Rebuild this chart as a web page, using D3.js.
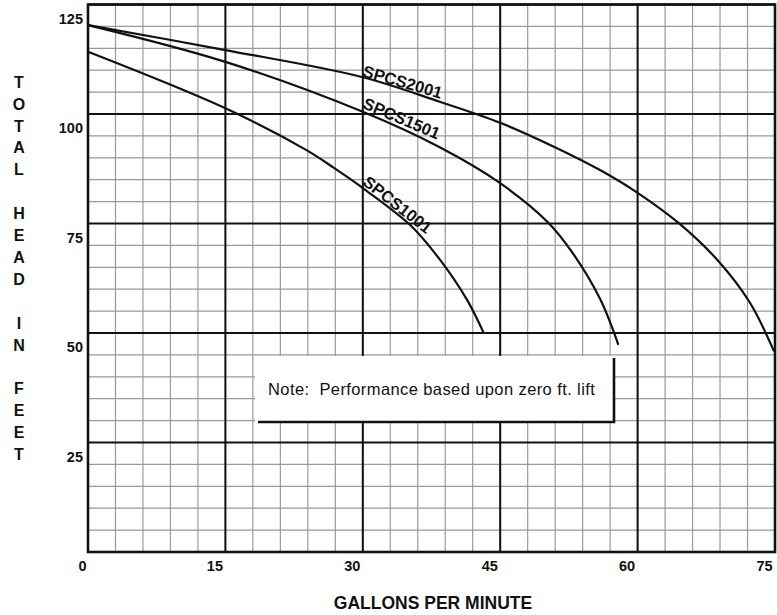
<!DOCTYPE html>
<html>
<head>
<meta charset="utf-8">
<script src="https://cdn.jsdelivr.net/npm/d3@7"></script>
<style>
  body { margin: 0; background: #fff; }
  text { font-family: "Liberation Sans", Arial, sans-serif; fill: #111; }
</style>
</head>
<body>
<div id="viz-container"></div>
<script>
// pump curves (gallons per minute vs total head in feet)
let spcs2001Gpm  = [0, 15, 30, 38.4, 45, 51.2, 55.9, 60, 64.6, 69.0, 72.3, 74.9];
let spcs2001Head = [120.3, 114.6, 108.4, 102.8, 98.0, 92.2, 87.2, 82.0, 74.9, 66.0, 56.8, 45.8];

let spcs1501Gpm  = [0, 15, 30, 38.4, 45, 50.2, 52.9, 55.9, 57.9];
let spcs1501Head = [120.3, 111.9, 100.5, 92.4, 84.2, 75.3, 68.3, 57.8, 47.3];

let spcs1001Gpm  = [0, 15, 23.9, 26.7, 30, 35.2, 38.4, 41.4, 43.2];
let spcs1001Head = [114.2, 101.3, 91.7, 87.9, 83.1, 74.6, 66.8, 57.5, 50.0];

let seriesNames = ["SPCS2001", "SPCS1501", "SPCS1001"];

let xTicks = [0, 15, 30, 45, 60, 75];
let yTicks = [25, 50, 75, 100, 125];

let yTitleWords = ["TOTAL", "HEAD", "IN", "FEET"];
let xTitle = "GALLONS PER MINUTE";
let noteText = "Note:  Performance based upon zero ft. lift";

let series = [
  { name: seriesNames[0], gpm: spcs2001Gpm, head: spcs2001Head },
  { name: seriesNames[1], gpm: spcs1501Gpm, head: spcs1501Head },
  { name: seriesNames[2], gpm: spcs1001Gpm, head: spcs1001Head }
];

// label look: rotation and lift above the curve
let labelAngle = [16, 23, 38];
let labelLift = [1, 4, 4];

let viz = d3.select("#viz-container")
            .append("svg")
              .attr("width", 777)
              .attr("height", 615);

let x = d3.scaleLinear().domain([0, 75]).range([88, 775]);
let y = d3.scaleLinear().domain([0, 125]).range([552, 4.5]);

// minor grid
viz.append("g").selectAll("line").data(d3.range(3, 75, 3)).enter().append("line")
    .attr("x1", d => x(d)).attr("x2", d => x(d))
    .attr("y1", y(0)).attr("y2", y(125))
    .attr("stroke", "#9a9a9a").attr("stroke-width", 1.2);
viz.append("g").selectAll("line").data(d3.range(5, 125, 5)).enter().append("line")
    .attr("y1", d => y(d)).attr("y2", d => y(d))
    .attr("x1", x(0)).attr("x2", x(75))
    .attr("stroke", "#9a9a9a").attr("stroke-width", 1.2);

// major grid
viz.append("g").selectAll("line").data(xTicks).enter().append("line")
    .attr("x1", d => x(d)).attr("x2", d => x(d))
    .attr("y1", y(0)).attr("y2", y(125))
    .attr("stroke", "#111").attr("stroke-width", 2);
viz.append("g").selectAll("line").data(yTicks).enter().append("line")
    .attr("y1", d => y(d)).attr("y2", d => y(d))
    .attr("x1", x(0)).attr("x2", x(75))
    .attr("stroke", "#111").attr("stroke-width", 2);

// frame
viz.append("rect")
    .attr("x", x(0)).attr("y", y(125))
    .attr("width", x(75) - x(0)).attr("height", y(0) - y(125))
    .attr("fill", "none").attr("stroke", "#111").attr("stroke-width", 2.6);

// note box
viz.append("rect")
    .attr("x", 255).attr("y", 356).attr("width", 358).attr("height", 66)
    .attr("fill", "#fff");
viz.append("path")
    .attr("d", "M258,422 H614 V358")
    .attr("fill", "none").attr("stroke", "#111").attr("stroke-width", 2.6);
viz.append("text")
    .attr("x", 268).attr("y", 395)
    .attr("font-size", 16.5)
    .attr("letter-spacing", 0.4)
    .attr("fill", "#222")
    .style("white-space", "pre")
    .text(noteText);

// curves
let line = d3.line()
    .x(p => x(p[0]))
    .y(p => y(p[1]))
    .curve(d3.curveCatmullRom.alpha(0.5));

viz.append("g").selectAll("path").data(series).enter().append("path")
    .attr("d", d => line(d3.zip(d.gpm, d.head)))
    .attr("fill", "none")
    .attr("stroke", "#111")
    .attr("stroke-width", 2.2);

// curve labels, starting where each curve meets the 30 gpm line
function headAt(s, g) {
  let i = d3.bisectLeft(s.gpm, g);
  if (s.gpm[i] == g) return s.head[i];
  let t = (g - s.gpm[i - 1]) / (s.gpm[i] - s.gpm[i - 1]);
  return s.head[i - 1] + t * (s.head[i] - s.head[i - 1]);
}

viz.append("g").selectAll("text").data(series).enter().append("text")
    .attr("transform", (d, i) => "translate(" + (x(30) - 1) + "," + (y(headAt(d, 30)) - labelLift[i]) + ") rotate(" + labelAngle[i] + ")")
    .attr("font-size", 16.5)
    .attr("font-weight", "bold")
    .text(d => d.name);

// axes
let yAxis = viz.append("g")
    .attr("transform", "translate(" + x(0) + ",14)")
    .call(d3.axisLeft(y).tickValues(yTicks).tickSize(0).tickPadding(5));
yAxis.select(".domain").remove();
yAxis.selectAll("text")
    .attr("font-size", 14.5).attr("font-weight", "bold")
    .style("font-family", "'Liberation Sans', Arial, sans-serif").attr("fill", "#111");

let xAxis = viz.append("g")
    .attr("transform", "translate(-11," + y(0) + ")")
    .call(d3.axisBottom(x).tickValues(xTicks).tickSize(0).tickPadding(9));
xAxis.select(".domain").remove();
xAxis.selectAll("text")
    .attr("font-size", 14.5).attr("font-weight", "bold")
    .style("font-family", "'Liberation Sans', Arial, sans-serif").attr("fill", "#111");
xAxis.selectAll(".tick").filter(d => d == 0).select("text").attr("dx", 5);

// axis titles
let letters = [];
let row = 0;
yTitleWords.forEach(function(w) {
  w.split("").forEach(function(c) { letters.push({ c: c, row: row }); row++; });
  row++;
});

viz.append("g").selectAll("text").data(letters).enter().append("text")
    .attr("x", 19)
    .attr("y", d => 82 + d.row * 21.9)
    .attr("dy", "0.36em")
    .attr("text-anchor", "middle")
    .attr("font-size", 16)
    .attr("font-weight", "bold")
    .text(d => d.c);

viz.append("text")
    .attr("x", 433).attr("y", 609)
    .attr("text-anchor", "middle")
    .attr("font-size", 17.5)
    .attr("font-weight", "bold")
    .text(xTitle);
</script>
</body>
</html>
